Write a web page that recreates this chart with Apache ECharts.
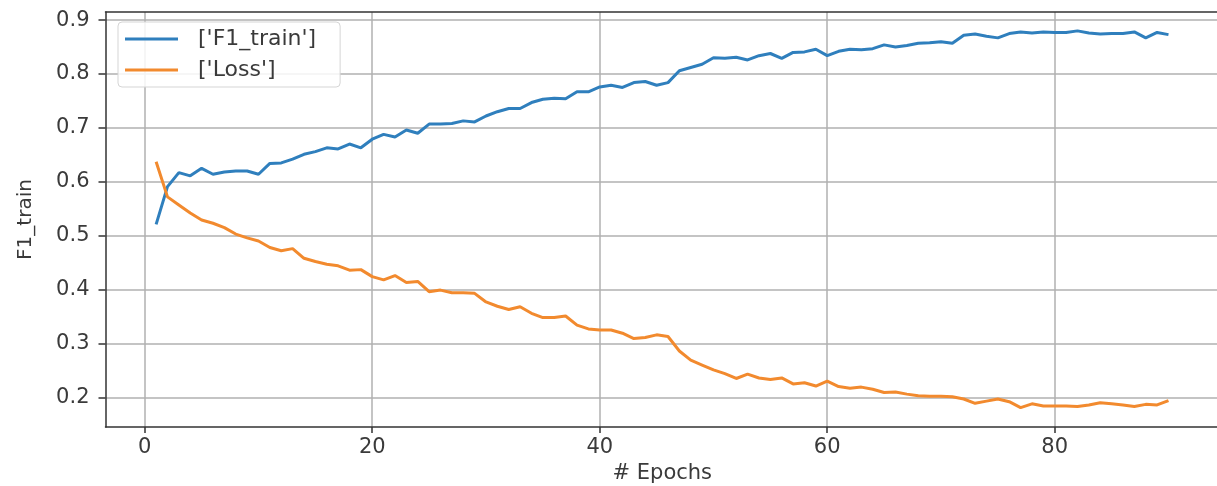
<!DOCTYPE html>
<html>
<head>
<meta charset="utf-8">
<script src="https://cdn.jsdelivr.net/npm/echarts@6/dist/echarts.min.js"></script>
<style>
html,body{margin:0;padding:0;background:#fff;}
#chart{width:1217px;height:486px;}
</style>
</head>
<body>
<div id="chart"></div>
<script>
const epochs = Array.from({length: 90}, (_, i) => i + 1);
const f1Train = [
  0.521, 0.591, 0.617, 0.611, 0.625, 0.614, 0.618, 0.620, 0.620, 0.614,
  0.634, 0.635, 0.642, 0.651, 0.656, 0.663, 0.661, 0.670, 0.663, 0.679,
  0.688, 0.683, 0.696, 0.690, 0.707, 0.707, 0.708, 0.713, 0.711, 0.722,
  0.730, 0.736, 0.736, 0.747, 0.753, 0.755, 0.754, 0.767, 0.767, 0.776,
  0.779, 0.775, 0.784, 0.786, 0.779, 0.784, 0.806, 0.812, 0.818, 0.830,
  0.829, 0.831, 0.826, 0.834, 0.838, 0.829, 0.840, 0.841, 0.846, 0.834,
  0.842, 0.846, 0.845, 0.847, 0.854, 0.850, 0.853, 0.857, 0.858, 0.860,
  0.857, 0.872, 0.874, 0.870, 0.867, 0.875, 0.878, 0.876, 0.878, 0.877,
  0.877, 0.880, 0.876, 0.874, 0.875, 0.875, 0.878, 0.867, 0.877, 0.873
];
const loss = [
  0.637, 0.572, 0.557, 0.542, 0.529, 0.523, 0.515, 0.503, 0.496, 0.490,
  0.478, 0.472, 0.476, 0.458, 0.452, 0.447, 0.444, 0.436, 0.437, 0.424,
  0.418, 0.426, 0.413, 0.415, 0.396, 0.399, 0.394, 0.394, 0.393, 0.377,
  0.369, 0.363, 0.368, 0.356, 0.348, 0.348, 0.351, 0.334, 0.327, 0.325,
  0.325, 0.319, 0.309, 0.311, 0.316, 0.313, 0.286, 0.269, 0.260, 0.251,
  0.244, 0.235, 0.243, 0.236, 0.233, 0.236, 0.225, 0.227, 0.221, 0.230,
  0.220, 0.217, 0.219, 0.215, 0.209, 0.210, 0.206, 0.203, 0.202, 0.202,
  0.201, 0.197, 0.189, 0.193, 0.197, 0.192, 0.181, 0.188, 0.184, 0.184,
  0.184, 0.183, 0.186, 0.190, 0.188, 0.186, 0.183, 0.187, 0.186, 0.194
];
const xTicks = [0, 20, 40, 60, 80];
const yTicks = [0.2, 0.3, 0.4, 0.5, 0.6, 0.7, 0.8, 0.9];
const seriesNames = ["['F1_train']", "['Loss']"];
const xName = '# Epochs';
const yName = 'F1_train';

const FONT = 'DejaVu Sans';
const TXT = '#3a3a3a';
const chart = echarts.init(document.getElementById('chart'), null, {renderer: 'canvas'});
chart.setOption({
  animation: false,
  backgroundColor: '#ffffff',
  grid: {
    left: 105.5, top: 12, width: 1113.6, height: 415,
    show: false,
    outerBoundsMode: 'none',
    containLabel: false
  },
  legend: {
    data: seriesNames,
    orient: 'vertical',
    left: 118, top: 22,
    padding: [6, 24, 6, 7],
    itemGap: 9,
    itemWidth: 53, itemHeight: 3,
    icon: 'rect',
    backgroundColor: 'rgba(255,255,255,0.85)',
    borderColor: '#d5d5d5', borderWidth: 1, borderRadius: 4,
    textStyle: {fontFamily: FONT, fontSize: 22, color: TXT, lineHeight: 22, padding: [0, 0, 0, 15]}
  },
  xAxis: [{
    type: 'value',
    min: -3.45, max: 94.45,
    name: xName, nameLocation: 'middle', nameGap: 36,
    nameTextStyle: {fontFamily: FONT, fontSize: 21, color: TXT},
    axisLine: {show: true, onZero: false, lineStyle: {color: '#333', width: 1.5}},
    axisTick: {show: true, length: 6, customValues: xTicks, lineStyle: {color: '#333', width: 1.5}},
    axisLabel: {customValues: xTicks, fontFamily: FONT, fontSize: 21, color: TXT, margin: 10},
    splitLine: {show: true, lineStyle: {color: '#b0b0b0', width: 1.5}}
  }, {
    type: 'value', position: 'top',
    min: -3.45, max: 94.45,
    axisLine: {show: true, onZero: false, lineStyle: {color: '#333', width: 1.5}},
    axisTick: {show: false}, axisLabel: {show: false}, splitLine: {show: false}
  }],
  yAxis: {
    type: 'value',
    min: 0.145, max: 0.915,
    name: yName, nameLocation: 'middle', nameGap: 70, nameRotate: 90,
    nameTextStyle: {fontFamily: FONT, fontSize: 20, color: TXT},
    axisLine: {show: true, onZero: false, lineStyle: {color: '#333', width: 1.5}},
    axisTick: {show: true, length: 7, customValues: yTicks, lineStyle: {color: '#333', width: 1.5}},
    axisLabel: {customValues: yTicks, fontFamily: FONT, fontSize: 21, color: TXT, margin: 16,
      formatter: v => v.toFixed(1)},
    splitLine: {show: true, lineStyle: {color: '#b0b0b0', width: 1.5}}
  },
  series: [
    {
      name: seriesNames[0], type: 'line', showSymbol: false, symbol: 'none',
      data: epochs.map((e, i) => [e, f1Train[i]]),
      lineStyle: {color: '#2f7fbd', width: 3}, itemStyle: {color: '#2f7fbd'}
    },
    {
      name: seriesNames[1], type: 'line', showSymbol: false, symbol: 'none',
      data: epochs.map((e, i) => [e, loss[i]]),
      lineStyle: {color: '#f28a2e', width: 3}, itemStyle: {color: '#f28a2e'}
    }
  ]
});
</script>
</body>
</html>
